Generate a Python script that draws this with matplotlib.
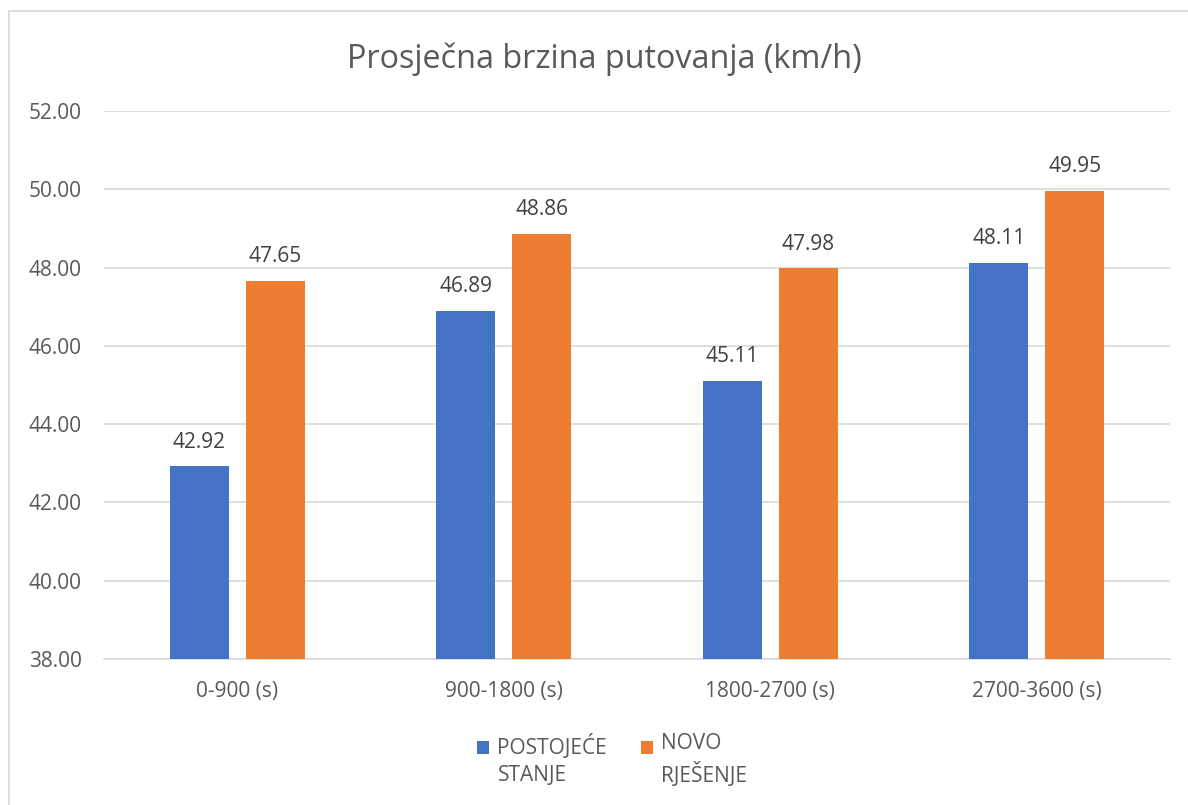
import matplotlib.pyplot as plt
import numpy as np
from matplotlib.patches import Rectangle
from matplotlib.legend_handler import HandlerPatch

categories = ['0-900 (s)', '900-1800 (s)', '1800-2700 (s)', '2700-3600 (s)']
postojece = [42.92, 46.89, 45.11, 48.11]
novo = [47.65, 48.86, 47.98, 49.95]
series_labels = ['POSTOJEĆE\nSTANJE', 'NOVO\nRJEŠENJE']
colors = ['#4472C4', '#ED7D31']
TEXT = '#595959'

plt.rcParams['font.family'] = ['Open Sans', 'DejaVu Sans']

fig = plt.figure(figsize=(11.88, 8.05), dpi=100)
ax = fig.add_axes([104 / 1188, 1 - 659 / 805, 1066 / 1188, 548 / 805])

# outer chart border
fig.patches.append(Rectangle((9 / 1188, -0.05), 1.2, 1 - 11 / 805 + 0.05,
                             transform=fig.transFigure, fill=False,
                             edgecolor='#d9d9d9', linewidth=1.2))

x = np.arange(len(categories))
width = 0.221
offset = 0.1425
bars1 = ax.bar(x - offset, postojece, width, color=colors[0], label=series_labels[0], zorder=3)
bars2 = ax.bar(x + offset, novo, width, color=colors[1], label=series_labels[1], zorder=3)

for bars in (bars1, bars2):
    for b in bars:
        h = b.get_height()
        ax.text(b.get_x() + b.get_width() / 2, h + 0.48, f'{h:.2f}',
                ha='center', va='baseline', fontsize=15, color='#404040')

ax.set_xlim(-0.5, 3.5)
ax.set_ylim(38, 52)
ax.set_yticks(np.arange(38, 52.1, 2))
ax.set_yticklabels([f'{v:.2f}' for v in np.arange(38, 52.1, 2)])
ax.set_xticks(x)
ax.set_xticklabels(categories)
ax.yaxis.grid(True, color='#d9d9d9', linewidth=1.2, zorder=0)
ax.set_axisbelow(True)
for s in ('top', 'right', 'left'):
    ax.spines[s].set_visible(False)
ax.spines['bottom'].set_color('#d9d9d9')
ax.spines['bottom'].set_linewidth(1.2)
ax.tick_params(axis='both', length=0, labelsize=15, colors=TEXT)
ax.tick_params(axis='y', pad=16)
ax.tick_params(axis='x', pad=16)

fig.text(604.5 / 1188, 1 - 68 / 805, 'Prosječna brzina putovanja (km/h)',
         ha='center', va='baseline', fontsize=23.3, color=TEXT)


# legend square sits next to the first line of the wrapped label
def square_top(legend, orig_handle, xdescent, ydescent, width, height, fontsize):
    return Rectangle((-xdescent, -ydescent + 0.62 * fontsize), width, height)


leg = fig.legend(handles=[bars1[0], bars2[0]], labels=series_labels, loc='center',
                 bbox_to_anchor=(612 / 1188, 1 - 760 / 805), ncol=2, frameon=False,
                 fontsize=15, handlelength=0.6, handleheight=0.6, columnspacing=1.6,
                 handletextpad=0.4,
                 handler_map={Rectangle: HandlerPatch(patch_func=square_top)})
for t in leg.get_texts():
    t.set_color(TEXT)
    t.set_linespacing(1.4)

fig.savefig('out.png', dpi=100, facecolor='white')
